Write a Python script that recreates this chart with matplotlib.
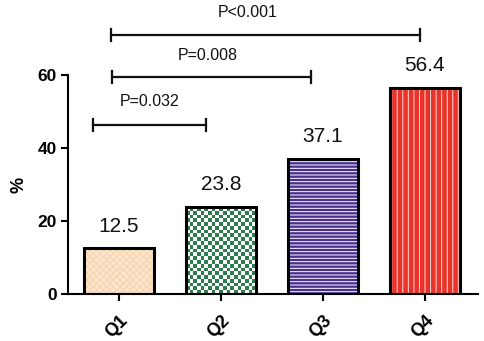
import numpy as np
import matplotlib
matplotlib.use("Agg")
import matplotlib.pyplot as plt
from matplotlib.colors import ListedColormap

categories = ["Q1", "Q2", "Q3", "Q4"]
values = [12.5, 23.8, 37.1, 56.4]
value_labels = ["12.5", "23.8", "37.1", "56.4"]
y_ticks = [0, 20, 40, 60]

# significance brackets: (x start, x end, y level, text, text x, text y)
bracket_x0 = [-0.25, -0.07, -0.08]
bracket_x1 = [0.85, 1.88, 2.95]
bracket_y = [46.3, 59.5, 71.0]
bracket_text = ["P=0.032", "P=0.008", "P<0.001"]
bracket_tx = [0.30, 0.87, 1.26]
bracket_ty = [52.6, 65.2, 77.0]

plt.rcParams['font.family'] = ['Liberation Sans', 'DejaVu Sans']
plt.rcParams['hatch.linewidth'] = 0.7

fig = plt.figure(figsize=(4.84, 3.41), dpi=100)
ax = fig.add_axes([68/484, 47/341, 410/484, 294/341])
x = np.arange(len(categories))
width = 0.686

face = ["#FDE6CD", "#FFFFFF", "#4A2F8F", "#E8332B"]
hatch_col = ["#F7D3B0", "#FFFFFF", "#FFFFFF", "#FFD9D9"]
hatches = ["xxxxx", "", "-----", "|||"]

bars = ax.bar(x, values, width=width, color=face, linewidth=0, zorder=2)
for b, hc, h in zip(bars, hatch_col, hatches):
    if h:
        b.set_hatch(h)
        b.set_edgecolor(hc)

# checkerboard fill for Q2
b2 = bars[1]
nx, ny = 19, 23
checker = (np.add.outer(np.arange(ny), np.arange(nx)) % 2).astype(float)
cmap = ListedColormap(["#FFFFFF", "#2E7D4F"])
im = ax.imshow(checker, cmap=cmap, extent=[b2.get_x(), b2.get_x() + b2.get_width(), 0, b2.get_height()],
               aspect='auto', interpolation='nearest', zorder=2.5)
im.set_clip_path(b2)

# outlines
ax.bar(x, values, width=width, facecolor='none', edgecolor='black', linewidth=2.2, zorder=3)

for xi, v, lab in zip(x, values, value_labels):
    ax.annotate(lab, (xi, v), xytext=(0, 16), textcoords='offset points', ha='center', va='center',
                fontsize=15, color='#111111')

cap = 1.6
for x0, x1, yb, t, tx, ty in zip(bracket_x0, bracket_x1, bracket_y, bracket_text, bracket_tx, bracket_ty):
    ax.plot([x0, x1], [yb, yb], color='#111111', lw=1.6, clip_on=False, zorder=4)
    ax.plot([x0, x0], [yb - cap, yb + cap], color='#111111', lw=1.6, clip_on=False, zorder=4)
    ax.plot([x1, x1], [yb - cap, yb + cap], color='#111111', lw=1.6, clip_on=False, zorder=4)
    ax.text(tx, ty, t, ha='center', va='center', fontsize=11.5, color='#111111')

ax.set_xlim(-0.5, 3.52)
ax.set_ylim(0, 80.5)
ax.spines['top'].set_visible(False)
ax.spines['right'].set_visible(False)
ax.spines['left'].set_bounds(0, 60)
for s in ['left', 'bottom']:
    ax.spines[s].set_linewidth(1.5)
ax.set_yticks(y_ticks)
ax.set_yticklabels([str(t) for t in y_ticks], fontsize=12.5, fontweight='bold')
ax.set_xticks(x)
ax.set_xticklabels(categories, fontsize=13, fontweight='bold', rotation=45, ha='right', rotation_mode='anchor')
ax.tick_params(axis='both', width=1.5, length=5, direction='out', pad=3)
ax.tick_params(axis='x', pad=8)
ax.set_ylabel('%', fontsize=13, fontweight='bold')
ax.yaxis.set_label_coords(-0.10, 0.37)

fig.savefig("out.png", dpi=100)
